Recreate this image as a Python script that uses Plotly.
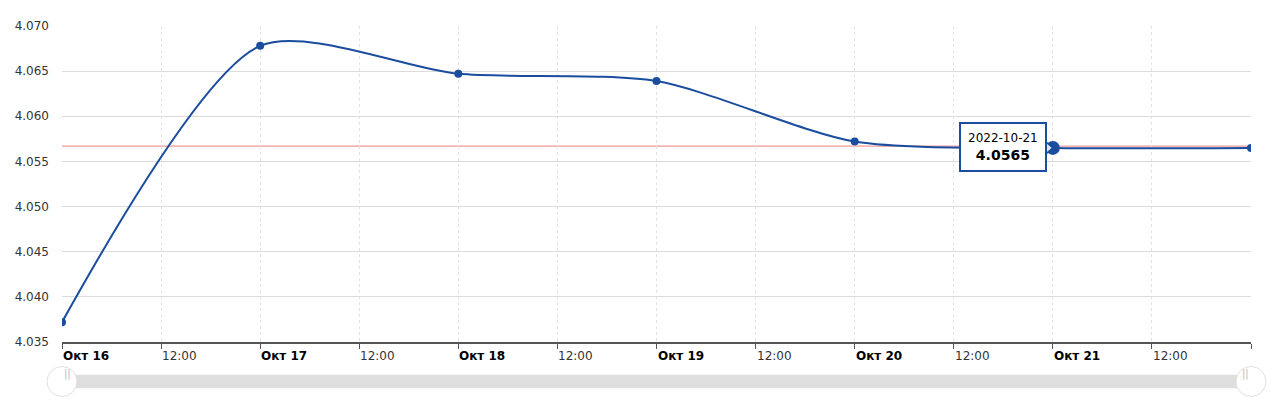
import plotly.graph_objects as go

dates = ["2022-10-16", "2022-10-17", "2022-10-18", "2022-10-19", "2022-10-20", "2022-10-21", "2022-10-22"]
values = [4.0372, 4.0678, 4.0647, 4.0639, 4.0572, 4.0565, 4.0565]
ref_value = 4.0567
hover_index = 5

tick_vals = ["2022-10-16 00:00", "2022-10-16 12:00", "2022-10-17 00:00", "2022-10-17 12:00",
             "2022-10-18 00:00", "2022-10-18 12:00", "2022-10-19 00:00", "2022-10-19 12:00",
             "2022-10-20 00:00", "2022-10-20 12:00", "2022-10-21 00:00", "2022-10-21 12:00"]
tick_text = ["Окт 16", "12:00", "Окт 17", "12:00", "Окт 18", "12:00", "Окт 19", "12:00",
             "Окт 20", "12:00", "Окт 21", "12:00"]
y_ticks = [4.035, 4.040, 4.045, 4.050, 4.055, 4.060, 4.065, 4.070]

LINE = "#1a4d9e"
FONT = "DejaVu Sans"

fig = go.Figure()
fig.add_trace(go.Scatter(
    x=dates, y=values, mode="lines+markers",
    line=dict(color=LINE, width=2, shape="spline", smoothing=0.75),
    marker=dict(color=LINE, size=8),
    hoverinfo="skip", showlegend=False,
))

# reference line
fig.add_shape(type="line", xref="paper", x0=0, x1=1, yref="y", y0=ref_value, y1=ref_value,
              line=dict(color="#f19a9a", width=1.2), layer="below")

# x tick labels, left aligned at ticks
for tv, tt in zip(tick_vals, tick_text):
    bold = not tt.startswith("12")
    fig.add_annotation(
        x=tv, xref="x", y=0, yref="paper", xanchor="left", yanchor="top",
        text=f"<b>{tt}</b>" if bold else tt, showarrow=False,
        xshift=-1, yshift=-5,
        font=dict(family=FONT, size=12, color="#000" if bold else "#333"),
    )

# tooltip pointer
fig.add_shape(type="path", xref="x", yref="y", xsizemode="pixel", ysizemode="pixel",
              xanchor=dates[hover_index], yanchor=values[hover_index],
              path="M -8,-7 L 0,0 L -8,7 Z", fillcolor="#dfe6f2", line=dict(color=LINE, width=1.5))
# tooltip
fig.add_annotation(
    x=dates[hover_index], y=values[hover_index], xref="x", yref="y",
    text=f"<span style='font-size:12px'>{dates[hover_index]}</span><br><b>{values[hover_index]:.4f}</b>",
    showarrow=False, xanchor="right", yanchor="middle", xshift=-6, yshift=1,
    bgcolor="white", bordercolor=LINE, borderwidth=2, borderpad=7,
    font=dict(family=FONT, size=14, color="#000"),
)
fig.add_trace(go.Scatter(
    x=[dates[hover_index]], y=[values[hover_index]], mode="markers",
    marker=dict(color=LINE, size=14), hoverinfo="skip", showlegend=False,
))

# scrollbar
fig.add_shape(type="rect", xref="paper", yref="paper", x0=0, x1=1, y0=-0.146, y1=-0.104,
              fillcolor="#dedede", line=dict(width=0))
for px in [0, 1]:
    fig.add_shape(type="circle", xref="paper", yref="paper", xsizemode="pixel", ysizemode="pixel",
                  xanchor=px, yanchor=-0.125, x0=-15, x1=15, y0=-15, y1=15,
                  fillcolor="white", line=dict(color="#e0e0e0", width=1))
    fig.add_annotation(x=px, y=-0.125, xref="paper", yref="paper", text="||", showarrow=False,
                       font=dict(family=FONT, size=10, color="#bbb"))

fig.update_layout(
    width=1280, height=413,
    margin=dict(l=54, r=37, t=18, b=79),
    paper_bgcolor="white", plot_bgcolor="white",
    font=dict(family=FONT, size=12, color="#333"),
    xaxis=dict(
        range=["2022-10-16", "2022-10-22"], tickvals=tick_vals + ["2022-10-22"],
        showticklabels=False, showgrid=True, gridcolor="#e2e2e2", griddash="dot", gridwidth=1,
        showline=True, linecolor="#555", linewidth=2, ticks="outside", ticklen=5, tickcolor="#555",
        zeroline=False, automargin=False,
    ),
    yaxis=dict(
        range=[4.035, 4.070], tickvals=y_ticks, ticktext=[f"{v:.3f}" for v in y_ticks],
        showgrid=True, gridcolor="#dcdcdc", gridwidth=1, zeroline=False, showline=False,
        ticks="", ticklabelstandoff=12, tickfont=dict(family=FONT, size=12, color="#333"),
        automargin=False,
    ),
)

fig.write_html("out.html")
